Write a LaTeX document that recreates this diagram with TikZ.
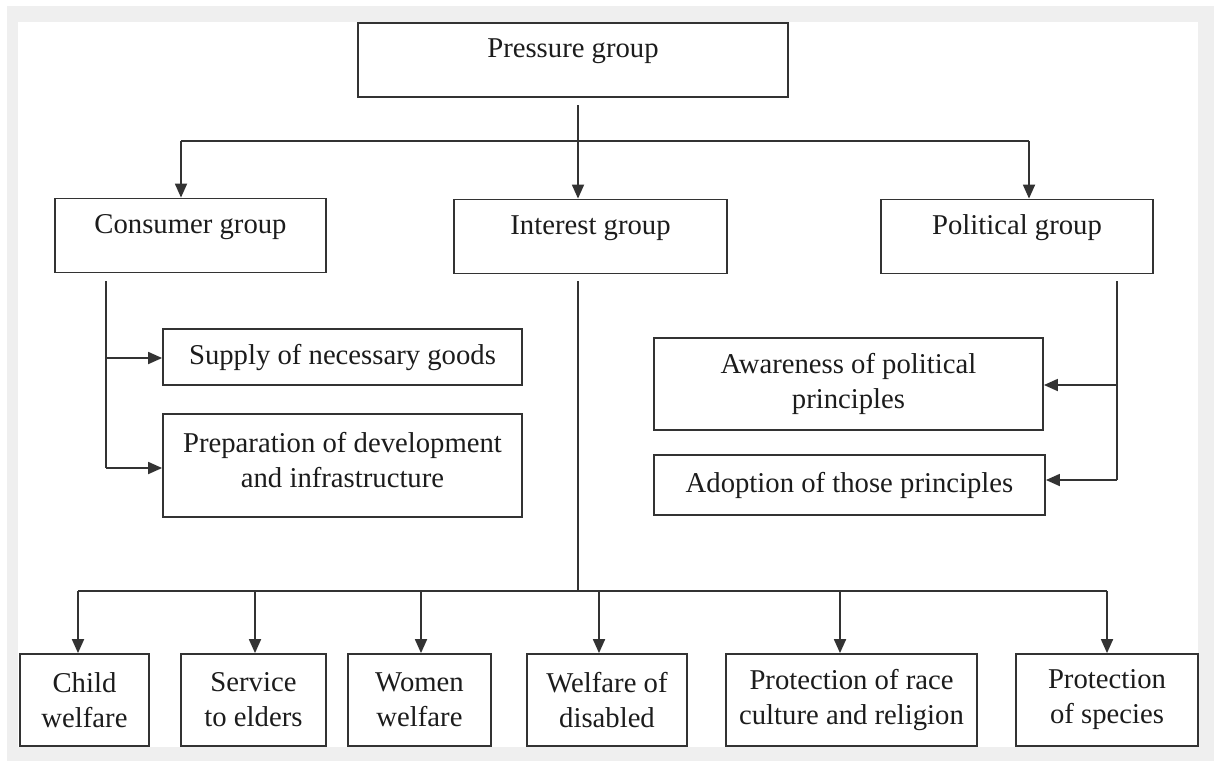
\documentclass[tikz,border=0pt]{standalone}
\usepackage{fontspec}
\setmainfont{Liberation Serif}
\usetikzlibrary{arrows.meta}
\definecolor{framegray}{HTML}{EFEFEF}
\definecolor{ink}{HTML}{333333}
\definecolor{txt}{HTML}{1C1C1C}
\begin{document}
\begin{tikzpicture}[x=1pt,y=-1pt,
  box/.style={draw=ink, line width=1.8pt, rectangle, inner sep=0pt, text=txt,
    align=center, font=\fontsize{28.7}{35}\selectfont},
  toprow/.style={text height=20pt, text depth=25pt},
  conn/.style={draw=ink, line width=1.8pt},
  arr/.style={conn, -{Triangle[length=14pt,width=12pt]}},
]
\useasboundingbox (0,0) rectangle (1214,761);
\fill[framegray] (7,6) rectangle (1214,761);
\fill[white] (18,22) rectangle (1198,747);

% top level
\node[box, toprow, minimum width=430pt, minimum height=74pt] (pg) at (573,60) {Pressure group};
\node[box, toprow, minimum width=271pt, minimum height=74pt] (cg) at (190.5,235.5) {Consumer group};
\node[box, toprow, minimum width=273pt, minimum height=74pt] (ig) at (590.5,236.5) {Interest group};
\node[box, toprow, minimum width=272pt, minimum height=74pt] (plg) at (1017,236.5) {Political group};

% consumer branch
\node[box, minimum width=359pt, minimum height=56pt] (sup) at (342.5,357) {Supply of necessary goods};
\node[box, text height=55pt, text depth=12pt, minimum width=359pt, minimum height=103pt] (prep) at (342.5,465.5) {Preparation of development\\and infrastructure};

% political branch
\node[box, minimum width=389pt, minimum height=92pt] (aw) at (848.5,384) {Awareness of political\\principles};
\node[box, minimum width=391pt, minimum height=60pt] (ad) at (849.5,485) {Adoption of those principles};

% interest branch
\node[box, minimum width=129pt, minimum height=92pt] (child) at (84.5,700) {Child\\welfare};
\node[box, minimum width=145pt, minimum height=92pt] (serv) at (253.5,700) {Service\\to elders};
\node[box, minimum width=143pt, minimum height=92pt] (women) at (419.5,700) {Women\\welfare};
\node[box, minimum width=160pt, minimum height=92pt] (dis) at (607,700) {Welfare of\\disabled};
\node[box, minimum width=251pt, minimum height=92pt] (race) at (851.5,700) {Protection of race\\culture and religion};
\node[box, minimum width=182pt, minimum height=92pt] (spec) at (1107,700) {Protection\\of species};

% top connectors
\coordinate (t0) at (578,105);
\coordinate (tl) at (181,141);
\coordinate (tr) at (1029,141);
\draw[conn] (tl) -- (tr);
\draw[arr] (t0) -- (t0 |- ig.north);
\draw[arr] (tl) -- (tl |- cg.north);
\draw[arr] (tr) -- (tr |- plg.north);

% consumer connectors
\coordinate (c0) at (106,281);
\coordinate (c1) at (106,358);
\coordinate (c2) at (106,468);
\draw[conn] (c0) -- (c2);
\draw[arr] (c1) -- (c1 -| sup.west);
\draw[arr] (c2) -- (c2 -| prep.west);

% political connectors
\coordinate (p0) at (1117,281);
\coordinate (p1) at (1117,385);
\coordinate (p2) at (1117,480);
\draw[conn] (p0) -- (p2);
\draw[arr] (p1) -- (p1 -| aw.east);
\draw[arr] (p2) -- (p2 -| ad.east);

% interest connectors
\coordinate (i0) at (578,281);
\coordinate (i1) at (578,591);
\draw[conn] (i0) -- (i1);
\coordinate (b1) at (78,591);
\coordinate (b2) at (255,591);
\coordinate (b3) at (421,591);
\coordinate (b4) at (599,591);
\coordinate (b5) at (840,591);
\coordinate (b6) at (1107,591);
\draw[conn] (b1) -- (b6);
\draw[arr] (b1) -- (b1 |- child.north);
\draw[arr] (b2) -- (b2 |- serv.north);
\draw[arr] (b3) -- (b3 |- women.north);
\draw[arr] (b4) -- (b4 |- dis.north);
\draw[arr] (b5) -- (b5 |- race.north);
\draw[arr] (b6) -- (b6 |- spec.north);
\end{tikzpicture}
\end{document}
